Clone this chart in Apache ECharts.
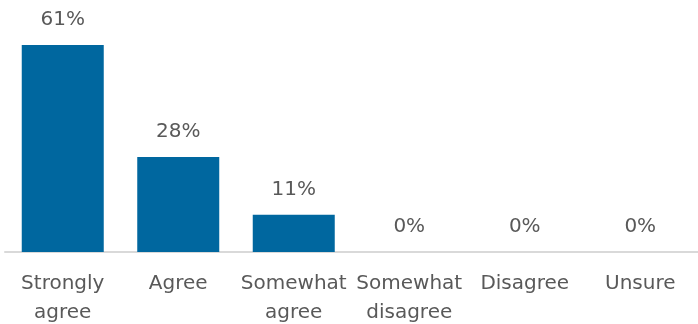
<!DOCTYPE html>
<html><head><meta charset="utf-8">
<script src="https://cdn.jsdelivr.net/npm/echarts@6/dist/echarts.min.js"></script>
<style>html,body{margin:0;padding:0;background:#fff}#c{width:698px;height:324px}</style>
</head><body><div id="c"></div>
<script>
const categories = ['Strongly\nagree', 'Agree', 'Somewhat\nagree', 'Somewhat\ndisagree', 'Disagree', 'Unsure'];
const values = [61, 28, 11, 0, 0, 0];
const chart = echarts.init(document.getElementById('c'));
chart.setOption({
  animation: false,
  grid: { left: 5, right: 0, top: 45, bottom: 72, containLabel: false, outerBoundsMode: 'none' },
  xAxis: {
    type: 'category', data: categories,
    axisLine: { lineStyle: { color: '#d9d9d9', width: 2 } },
    axisTick: { show: false },
    axisLabel: { color: '#595959', fontSize: 20, fontFamily: 'DejaVu Sans, sans-serif', margin: 17, lineHeight: 29, interval: 0 }
  },
  yAxis: { type: 'value', min: 0, max: 61, show: false, splitLine: { show: false } },
  series: [{
    type: 'bar', data: values, barCategoryGap: '29%',
    itemStyle: { color: '#00679F' },
    label: { show: true, position: 'top', distance: 15, formatter: '{c}%', color: '#595959', fontSize: 20, fontFamily: 'DejaVu Sans, sans-serif' }
  }]
});
</script></body></html>
